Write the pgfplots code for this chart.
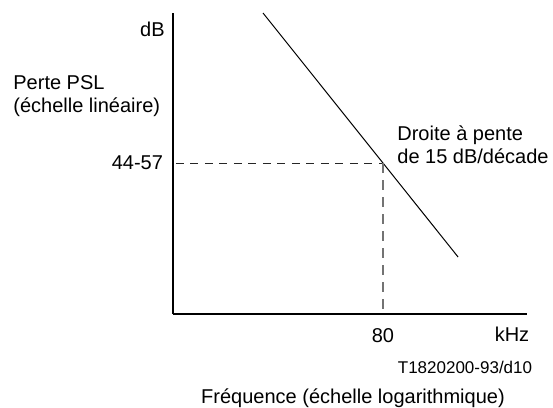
\documentclass[border=0pt]{standalone}
\usepackage{fontspec}
\setmainfont{Liberation Sans}
\usepackage{pgfplots}
\pgfplotsset{compat=1.18}
\begin{document}
\fontsize{10}{11.5}\selectfont
\begin{tikzpicture}
\useasboundingbox (-86.5pt,-47pt) rectangle (190pt,157pt);
\begin{axis}[
  scale only axis, width=177pt, height=150.5pt,
  at={(0,0)}, anchor=south west,
  xmode=log, xmin=7.13, xmax=420.1, ymin=41.44, ymax=59.5,
  axis x line=bottom, axis y line=left,
  axis line style={-, line width=0.6pt},
  xtick={80}, xticklabels={80},
  ytick={50.5}, yticklabels={44-57},
  major tick length=0pt, minor tick num=0,
  xminorticks=false,
  /pgf/number format/assume math mode=true,
  ticklabel style={font=\fontsize{10}{12}\selectfont},
  xticklabel style={anchor=north, yshift=-3.5pt},
  yticklabel style={anchor=east, xshift=-1.5pt},
  clip=false,
]
\addplot [black, line width=0.5pt] coordinates {(20.1,59.5) (80,50.5) (190,44.86)};
\addplot [black!85, line width=0.5pt, dash pattern=on 4pt off 3.25pt, dash phase=-1.5pt] coordinates {(7.13,50.5) (80,50.5)};
\addplot [black!55, line width=0.75pt, dash pattern=on 5pt off 3.5pt] coordinates {(80,50.5) (80,41.44)};
\end{axis}
\node[anchor=east, inner sep=0pt] at (-4pt,142.5pt) {dB};
\node[anchor=west, inner sep=0pt, align=left] at (-80pt,109pt) {Perte PSL\\(échelle linéaire)};
\node[anchor=west, inner sep=0pt, align=left] at (112pt,84.5pt) {Droite à pente\\de 15 dB/décade};
\node[inner sep=0pt] at (169.5pt,-10pt) {kHz};
\node[inner sep=0pt, font=\fontsize{8.5}{10}\selectfont] at (146pt,-26.5pt) {T1820200-93/d10};
\node[inner sep=0pt] at (90pt,-42pt) {Fréquence (échelle logarithmique)};
\end{tikzpicture}
\end{document}
